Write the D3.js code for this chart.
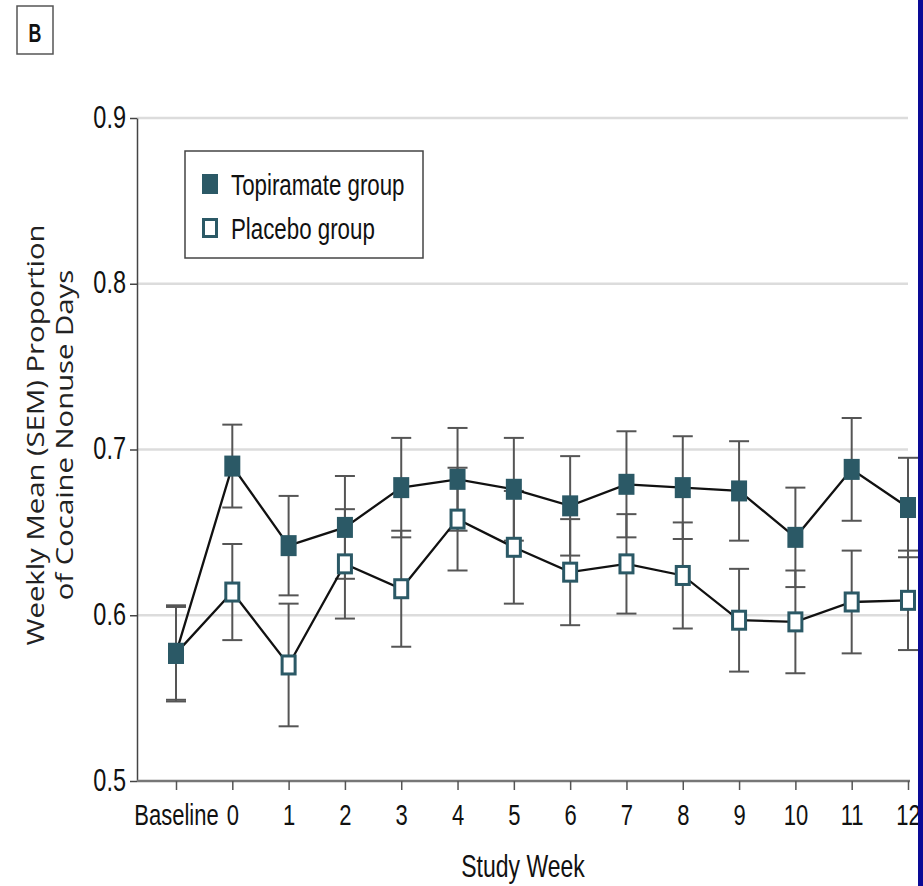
<!DOCTYPE html>
<html><head><meta charset="utf-8">
<script src="https://cdn.jsdelivr.net/npm/d3@7"></script>
<style>body{margin:0;background:#fff;} svg{display:block;}</style>
</head><body>
<svg id="c" width="923" height="886"></svg>
<script>
const weeks = ["Baseline","0","1","2","3","4","5","6","7","8","9","10","11","12"];
const topMean = [0.577,0.690,0.642,0.653,0.677,0.682,0.676,0.666,0.679,0.677,0.675,0.647,0.688,0.665];
const topSem  = [0.029,0.025,0.030,0.031,0.030,0.031,0.031,0.030,0.032,0.031,0.030,0.030,0.031,0.030];
const placMean = [0.577,0.614,0.570,0.631,0.616,0.658,0.641,0.626,0.631,0.624,0.597,0.596,0.608,0.609];
const placSem  = [0.028,0.029,0.037,0.033,0.035,0.031,0.034,0.032,0.030,0.032,0.031,0.031,0.031,0.030];
const yTicks = [0.5,0.6,0.7,0.8,0.9];
const seriesNames = ["Topiramate group","Placebo group"];

const svg = d3.select("#c");
const SY = 1.35; // vertical text stretch
const teal = "#2b5966";
const FONT = "'Liberation Sans', Arial, sans-serif";

const x = d3.scalePoint().domain(weeks).range([176, 908]);
const y = d3.scaleLinear().domain([0.5, 0.9]).range([781, 118]);
const x0 = 137, xEnd = 910;

// panel label
svg.append("rect").attr("x",17).attr("y",6).attr("width",36).attr("height",48)
  .attr("fill","#fff").attr("stroke","#555").attr("stroke-width",1.5);
svg.append("text").attr("transform",`translate(35,42) scale(0.85,1.25)`).attr("text-anchor","middle")
  .attr("font-family",FONT).attr("font-weight","bold").attr("font-size",21).attr("fill","#111").text("B");

// gridlines
svg.append("g").selectAll("line").data(yTicks.filter(d=>d>0.5)).join("line")
  .attr("x1",x0).attr("x2",908).attr("y1",d=>y(d)).attr("y2",d=>y(d))
  .attr("stroke","#dcdcdc").attr("stroke-width",2.5);

// y axis
const yAxis = svg.append("g").attr("transform",`translate(${x0},0)`)
  .call(d3.axisLeft(y).tickValues(yTicks).tickFormat(d3.format(".1f")).tickSize(7).tickSizeOuter(0));
yAxis.select(".domain").attr("stroke","#444").attr("stroke-width",1.5);
yAxis.selectAll(".tick line").attr("stroke","#444").attr("stroke-width",1.5);
yAxis.selectAll(".tick text").attr("x",null).attr("dy",null)
  .attr("transform",`translate(-11,9) scale(1,${SY})`)
  .attr("font-family",FONT).attr("font-size",23.5).attr("fill","#111");

// x axis
const xAxis = svg.append("g").attr("transform",`translate(0,781)`)
  .call(d3.axisBottom(x).tickSize(9).tickSizeOuter(0));
xAxis.select(".domain").attr("d",`M${x0},0H${xEnd}`).attr("stroke","#777").attr("stroke-width",2.5);
xAxis.selectAll(".tick line").attr("stroke","#555").attr("stroke-width",1.5);
xAxis.selectAll(".tick text").attr("y",null).attr("dy",null)
  .attr("transform",`translate(0,44) scale(1,${SY})`)
  .attr("font-family",FONT).attr("font-size",22).attr("fill","#111");

// axis titles
svg.append("text").attr("transform",`translate(523,877) scale(1,${SY})`).attr("text-anchor","middle")
  .attr("font-family",FONT).attr("font-size",23).attr("fill","#111").text("Study Week");
const yt = svg.append("text").attr("transform",`translate(0,435) rotate(-90) scale(1.22,1)`)
  .attr("text-anchor","middle").attr("font-family","'Open Sans', sans-serif").attr("font-size",24).attr("fill","#222");
yt.append("tspan").attr("x",0).attr("y",44).text("Weekly Mean (SEM) Proportion");
yt.append("tspan").attr("x",0).attr("y",73).text("of Cocaine Nonuse Days");

const series = [
  {name:seriesNames[0], mean:topMean, sem:topSem, filled:true},
  {name:seriesNames[1], mean:placMean, sem:placSem, filled:false}
];

// error bars
series.forEach(s=>{
  const g = svg.append("g").attr("stroke","#555").attr("stroke-width",2);
  const pts = weeks.map((w,i)=>({w, m:s.mean[i], e:s.sem[i]}));
  g.selectAll(".v").data(pts).join("line")
    .attr("x1",d=>x(d.w)).attr("x2",d=>x(d.w)).attr("y1",d=>y(d.m+d.e)).attr("y2",d=>y(d.m-d.e));
  g.selectAll(".t").data(pts).join("line")
    .attr("x1",d=>x(d.w)-10).attr("x2",d=>x(d.w)+10).attr("y1",d=>y(d.m+d.e)).attr("y2",d=>y(d.m+d.e));
  g.selectAll(".b").data(pts).join("line")
    .attr("x1",d=>x(d.w)-10).attr("x2",d=>x(d.w)+10).attr("y1",d=>y(d.m-d.e)).attr("y2",d=>y(d.m-d.e));
});

// lines
const line = d3.line().x(d=>x(d.w)).y(d=>y(d.m));
series.slice().reverse().forEach(s=>{
  svg.append("path").datum(weeks.map((w,i)=>({w,m:s.mean[i]})))
    .attr("d",line).attr("fill","none").attr("stroke","#111").attr("stroke-width",2.3);
});

// markers
const MW = 16, MH = 21;
series.slice().reverse().forEach(s=>{
  svg.append("g").selectAll("rect").data(weeks.map((w,i)=>({w,m:s.mean[i]}))).join("rect")
    .attr("x",d=>x(d.w)-MW/2 + (s.filled?0:1.5)).attr("y",d=>y(d.m)-MH/2 + (s.filled?0:1.5))
    .attr("width",s.filled?MW:MW-3).attr("height",s.filled?MH:MH-3)
    .attr("fill",s.filled?teal:"#fff").attr("stroke",teal).attr("stroke-width",s.filled?0:3);
});

// legend
const lg = svg.append("g");
lg.append("rect").attr("x",185).attr("y",151).attr("width",238).attr("height",107)
  .attr("fill","#fff").attr("stroke","#444").attr("stroke-width",1.5);
series.forEach((s,i)=>{
  const cy = 184 + i*44;
  lg.append("rect").attr("x",202 + (s.filled?0:1.5)).attr("y",cy-10 + (s.filled?0:1.5))
    .attr("width",s.filled?16:13).attr("height",s.filled?20:17)
    .attr("fill",s.filled?teal:"#fff").attr("stroke",teal).attr("stroke-width",s.filled?0:3);
  lg.append("text").attr("transform",`translate(231,${cy+11}) scale(1,${SY})`)
    .attr("font-family",FONT).attr("font-size",22.3).attr("fill","#111").text(s.name);
});

// right border strip
svg.append("rect").attr("x",918).attr("y",0).attr("width",5).attr("height",886).attr("fill","#0a0a96");
</script>
</body></html>
